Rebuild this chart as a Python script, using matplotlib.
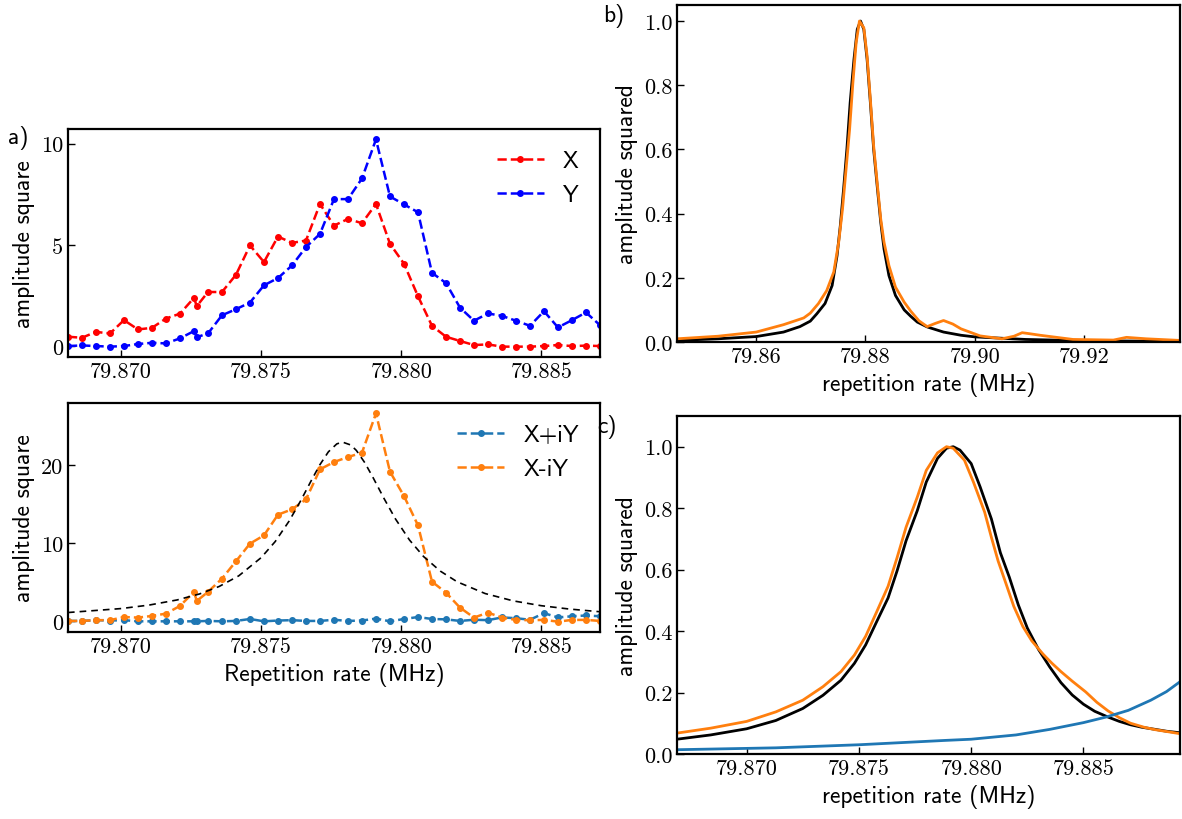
import matplotlib
matplotlib.use("Agg")
import matplotlib.pyplot as plt
from matplotlib.ticker import MultipleLocator, FormatStrFormatter

plt.rcParams['axes.formatter.use_mathtext'] = True
plt.rcParams['axes.unicode_minus'] = False

# ---- panel a / lower-left: measured quadratures ----
freq = [79.8681, 79.8686, 79.8691, 79.8696, 79.8701, 79.8706, 79.8711, 79.8716,
        79.8721, 79.8726, 79.8727, 79.8731, 79.8736, 79.8741, 79.8746, 79.8751,
        79.8756, 79.8761, 79.8766, 79.8771, 79.8776, 79.8781, 79.8786, 79.8791,
        79.8796, 79.8801, 79.8806, 79.8811, 79.8816, 79.8821, 79.8826, 79.8831,
        79.8836, 79.8841, 79.8846, 79.8851, 79.8856, 79.8861, 79.8866, 79.8871]
amp_x = [0.46, 0.41, 0.70, 0.62, 1.28, 0.82, 0.90, 1.36, 1.60, 2.38, 1.97, 2.67,
         2.67, 3.52, 4.97, 4.15, 5.41, 5.10, 5.21, 7.02, 5.95, 6.28, 6.07, 7.02,
         5.05, 4.07, 2.46, 1.00, 0.46, 0.25, 0.05, 0.08, -0.03, -0.03, -0.03,
         0.00, 0.05, 0.00, 0.02, 0.00]
amp_y = [0.00, 0.03, 0.00, -0.03, 0.00, 0.10, 0.16, 0.13, 0.38, 0.74, 0.44, 0.62,
         1.52, 1.82, 2.15, 3.00, 3.36, 3.98, 4.89, 5.54, 7.26, 7.26, 8.28, 10.21,
         7.39, 7.00, 6.61, 3.62, 3.11, 1.90, 1.25, 1.61, 1.49, 1.25, 1.00, 1.72,
         0.92, 1.28, 1.66, 1.03]
amp_plus = [0.00, 0.00, 0.10, 0.05, 0.10, -0.05, -0.05, -0.05, -0.05, -0.05, -0.05,
            0.00, -0.05, 0.00, 0.25, -0.05, 0.05, 0.10, 0.00, 0.00, 0.15, 0.00,
            0.05, 0.30, -0.05, 0.25, 0.50, 0.25, 0.20, 0.00, 0.15, 0.10, 0.45,
            0.35, 0.15, 1.00, 0.45, 0.60, 0.70, 0.60]
amp_minus = [0.00, 0.00, 0.10, 0.10, 0.50, 0.43, 0.64, 0.94, 1.93, 3.73, 2.57, 3.73,
             5.44, 7.67, 9.94, 11.00, 13.66, 14.35, 15.63, 19.49, 20.43, 21.07,
             21.63, 26.68, 19.19, 16.06, 12.29, 5.05, 3.64, 1.71, 0.43, 1.07, 0.43,
             0.13, 0.09, 0.13, -0.09, 0.13, 0.13, 0.00]

# dashed fit curve
fit_freq = [79.8681, 79.8700, 79.8710, 79.8720, 79.8728, 79.8735, 79.8742, 79.8750,
            79.8755, 79.8760, 79.8764, 79.8768, 79.8771, 79.8774, 79.8777, 79.8779,
            79.8782, 79.8784, 79.8787, 79.8790, 79.8794, 79.8798, 79.8803, 79.8808,
            79.8814, 79.8820, 79.8830, 79.8840, 79.8850, 79.8860, 79.8871]
fit_amp = [1.08, 1.59, 2.04, 2.70, 3.47, 4.43, 5.80, 8.14, 10.20, 12.85, 15.38,
           18.12, 20.10, 21.74, 22.76, 23.00, 22.62, 21.92, 20.35, 18.40, 15.66,
           13.09, 10.39, 8.28, 6.40, 5.03, 3.52, 2.58, 1.96, 1.53, 1.18]

# ---- panel b ----
b_black_f = [79.8455, 79.8530, 79.8600, 79.8650, 79.8680, 79.8699, 79.8711, 79.8726,
             79.8739, 79.8748, 79.8754, 79.8760, 79.8766, 79.8772, 79.8779, 79.8785,
             79.8791, 79.8797, 79.8803, 79.8809, 79.8815, 79.8822, 79.8828, 79.8834,
             79.8843, 79.8855, 79.8871, 79.8883, 79.8895, 79.8913, 79.8943, 79.8975,
             79.9000, 79.9093, 79.9200, 79.9376]
b_black = [0.005, 0.010, 0.017, 0.031, 0.048, 0.065, 0.088, 0.120, 0.176, 0.269,
           0.363, 0.477, 0.601, 0.746, 0.881, 0.974, 1.000, 0.974, 0.881, 0.746,
           0.601, 0.477, 0.373, 0.290, 0.207, 0.145, 0.100, 0.080, 0.062, 0.047,
           0.031, 0.021, 0.016, 0.008, 0.004, 0.002]
b_orange_f = [79.8455, 79.8530, 79.8600, 79.8650, 79.8687, 79.8699, 79.8714, 79.8729,
              79.8742, 79.8751, 79.8758, 79.8764, 79.8771, 79.8777, 79.8783, 79.8789,
              79.8797, 79.8803, 79.8809, 79.8815, 79.8822, 79.8828, 79.8834, 79.8843,
              79.8855, 79.8871, 79.8883, 79.8898, 79.8913, 79.8928, 79.8943, 79.8960,
              79.8975, 79.9010, 79.9050, 79.9072, 79.9087, 79.9100, 79.9120, 79.9180,
              79.9254, 79.9278, 79.9314, 79.9375]
b_orange = [0.010, 0.018, 0.031, 0.054, 0.075, 0.090, 0.120, 0.160, 0.218, 0.311,
            0.415, 0.529, 0.663, 0.808, 0.933, 1.000, 0.979, 0.891, 0.756, 0.611,
            0.487, 0.383, 0.311, 0.238, 0.171, 0.124, 0.096, 0.066, 0.048, 0.058,
            0.067, 0.056, 0.041, 0.019, 0.010, 0.018, 0.029, 0.026, 0.021, 0.008,
            0.006, 0.0145, 0.010, 0.005]

# ---- panel c ----
c_black_f = [79.8670, 79.8684, 79.8700, 79.8713, 79.8725, 79.8734, 79.8742, 79.8748,
             79.8753, 79.8758, 79.8763, 79.8767, 79.8771, 79.8776, 79.8780, 79.8785,
             79.8789, 79.8792, 79.8795, 79.8800, 79.8804, 79.8809, 79.8813, 79.8817,
             79.8821, 79.8825, 79.8830, 79.8835, 79.8840, 79.8845, 79.8850, 79.8855,
             79.8861, 79.8866, 79.8871, 79.8876, 79.8882, 79.8887, 79.8893]
c_black = [0.049, 0.062, 0.082, 0.109, 0.148, 0.191, 0.240, 0.295, 0.355, 0.432,
           0.508, 0.596, 0.694, 0.792, 0.885, 0.962, 0.995, 1.000, 0.989, 0.945,
           0.869, 0.765, 0.655, 0.575, 0.485, 0.410, 0.340, 0.283, 0.232, 0.192,
           0.162, 0.139, 0.120, 0.106, 0.095, 0.087, 0.080, 0.074, 0.069]
c_orange_f = [79.8670, 79.8684, 79.8700, 79.8713, 79.8725, 79.8734, 79.8742, 79.8748,
              79.8753, 79.8758, 79.8763, 79.8767, 79.8771, 79.8776, 79.8780, 79.8785,
              79.8789, 79.8792, 79.8797, 79.8801, 79.8806, 79.8809, 79.8812, 79.8815,
              79.8819, 79.8823, 79.8827, 79.8832, 79.8836, 79.8840, 79.8845, 79.8851,
              79.8856, 79.8861, 79.8866, 79.8871, 79.8877, 79.8882, 79.8888, 79.8893]
c_orange = [0.069, 0.084, 0.106, 0.137, 0.175, 0.219, 0.268, 0.322, 0.383, 0.464,
            0.546, 0.639, 0.738, 0.836, 0.923, 0.980, 1.000, 0.995, 0.956, 0.885,
            0.787, 0.705, 0.628, 0.565, 0.480, 0.415, 0.368, 0.325, 0.295, 0.268,
            0.237, 0.202, 0.168, 0.140, 0.118, 0.100, 0.087, 0.079, 0.072, 0.066]
c_blue_f = [79.8670, 79.8713, 79.8750, 79.8788, 79.8800, 79.8820, 79.8835, 79.8850,
            79.8860, 79.8870, 79.8880, 79.8887, 79.8893]
c_blue = [0.014, 0.020, 0.030, 0.044, 0.048, 0.062, 0.080, 0.102, 0.120, 0.142,
          0.175, 0.203, 0.235]

SANS = ['cmss10', 'DejaVu Sans']
SERIF = ['cmr10', 'DejaVu Serif']


def style_axes(ax, xstep, xfmt, ystep, yfmt):
    for s in ax.spines.values():
        s.set_linewidth(1.6)
    ax.tick_params(direction='in', length=5, width=1, labelsize=16)
    ax.xaxis.set_major_locator(MultipleLocator(xstep))
    ax.xaxis.set_major_formatter(FormatStrFormatter(xfmt))
    ax.yaxis.set_major_locator(MultipleLocator(ystep))
    ax.yaxis.set_major_formatter(FormatStrFormatter(yfmt))
    for lab in ax.get_xticklabels() + ax.get_yticklabels():
        lab.set_family(SERIF)


fig = plt.figure(figsize=(11.82, 8.2), dpi=100)
ax_a = fig.add_axes([0.0575, 0.5634, 0.4501, 0.2780])
ax_d = fig.add_axes([0.0575, 0.2280, 0.4501, 0.2793])
ax_b = fig.add_axes([0.5728, 0.5817, 0.4255, 0.4110])
ax_c = fig.add_axes([0.5728, 0.0793, 0.4255, 0.4122])

# a) X and Y
ax_a.plot(freq, amp_x, 'r--', marker='o', ms=4, lw=1.8, label='X')
ax_a.plot(freq, amp_y, 'b--', marker='o', ms=4, lw=1.8, label='Y')
ax_a.set_xlim(freq[0], freq[-1])
ax_a.set_ylabel('amplitude square', family=SANS, fontsize=17)
ax_a.legend(frameon=False, loc='upper right', prop={'family': SANS, 'size': 17})
style_axes(ax_a, 0.005, '%.3f', 5, '%d')

# lower-left: X+iY, X-iY and fit
ax_d.plot(freq, amp_plus, '--', color='tab:blue', marker='o', ms=4, lw=1.8, label='X+iY')
ax_d.plot(freq, amp_minus, '--', color='tab:orange', marker='o', ms=4, lw=1.8, label='X-iY')
ax_d.plot(fit_freq, fit_amp, 'k--', lw=1.2, dashes=(4, 3))
ax_d.set_xlim(freq[0], freq[-1])
ax_d.set_ylabel('amplitude square', family=SANS, fontsize=17)
ax_d.set_xlabel('Repetition rate (MHz)', family=SANS, fontsize=17)
ax_d.legend(frameon=False, loc='upper right', prop={'family': SANS, 'size': 17})
style_axes(ax_d, 0.005, '%.3f', 10, '%d')

# b)
ax_b.plot(b_black_f, b_black, 'k-', lw=2)
ax_b.plot(b_orange_f, b_orange, '-', color='tab:orange', lw=2)
ax_b.set_xlim(79.8455, 79.9376)
ax_b.set_ylim(0, 1.05)
ax_b.set_ylabel('amplitude squared', family=SANS, fontsize=17)
ax_b.set_xlabel('repetition rate (MHz)', family=SANS, fontsize=17)
style_axes(ax_b, 0.02, '%.2f', 0.2, '%.1f')

# c)
ax_c.plot(c_black_f, c_black, 'k-', lw=2)
ax_c.plot(c_orange_f, c_orange, '-', color='tab:orange', lw=2)
ax_c.plot(c_blue_f, c_blue, '-', color='tab:blue', lw=2)
ax_c.set_xlim(79.8669, 79.8893)
ax_c.set_ylim(0, 1.1)
ax_c.set_ylabel('amplitude squared', family=SANS, fontsize=17)
ax_c.set_xlabel('repetition rate (MHz)', family=SANS, fontsize=17)
style_axes(ax_c, 0.005, '%.3f', 0.2, '%.1f')

fig.text(0.007, 0.832, 'a)', family=SANS, fontsize=17, va='center')
fig.text(0.510, 0.980, 'b)', family=SANS, fontsize=17, va='center')
fig.text(0.505, 0.479, 'c)', family=SANS, fontsize=17, va='center')

fig.savefig('out.png', dpi=100)
